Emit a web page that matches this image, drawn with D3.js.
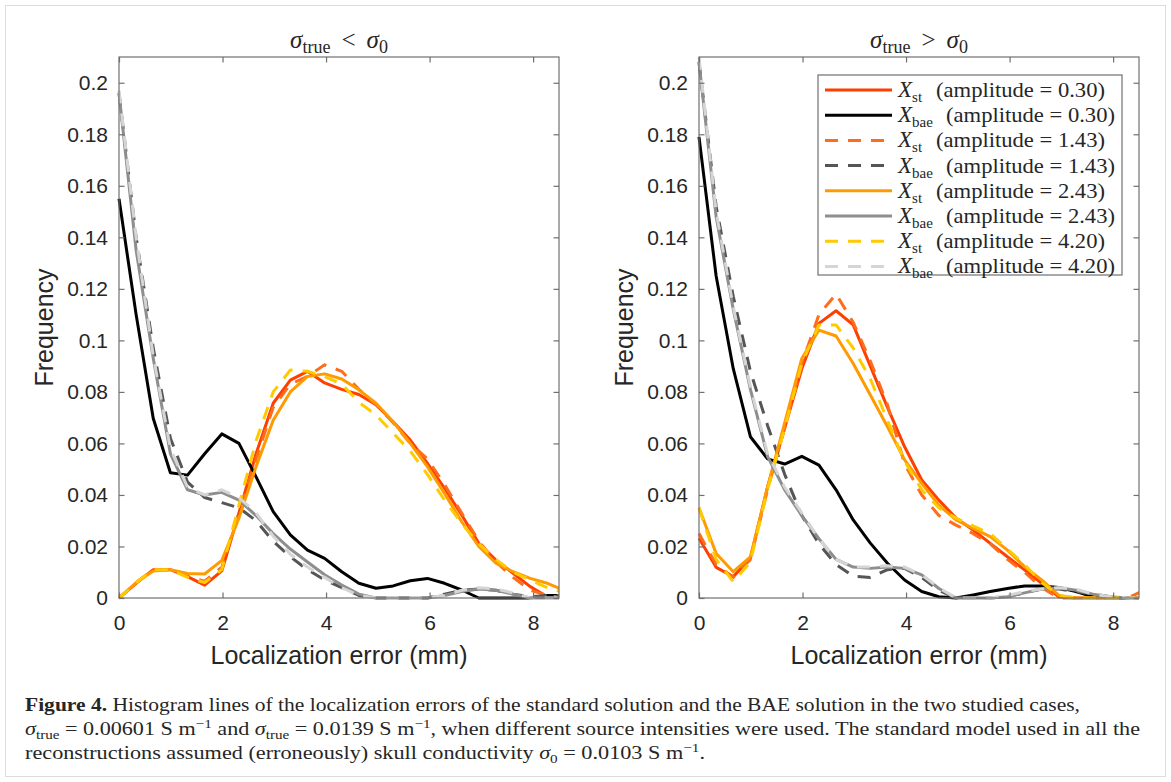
<!DOCTYPE html>
<html><head><meta charset="utf-8">
<script src="https://cdn.jsdelivr.net/npm/d3@7/dist/d3.min.js"></script>
<style>body{margin:0;background:#fff;} svg{display:block;}</style>
</head><body>
<svg id="chart" width="1171" height="782"></svg>
<script>
// ---------- data ----------
const xBins = [0, 0.331, 0.662, 0.993, 1.324, 1.655, 1.986, 2.317, 2.648, 2.979, 3.31, 3.641, 3.972, 4.303, 4.634, 4.965, 5.296, 5.627, 5.958, 6.289, 6.62, 6.951, 7.282, 7.613, 7.944, 8.275, 8.606];
const xTicks = [0, 2, 4, 6, 8];
const yTicks = [0, 0.02, 0.04, 0.06, 0.08, 0.1, 0.12, 0.14, 0.16, 0.18, 0.2];
const yTickLabels = ["0", "0.02", "0.04", "0.06", "0.08", "0.1", "0.12", "0.14", "0.16", "0.18", "0.2"];
const amplitudes = ["0.30", "0.30", "1.43", "1.43", "2.43", "2.43", "4.20", "4.20"];
const methods = ["st", "bae", "st", "bae", "st", "bae", "st", "bae"];

// sigma_true < sigma_0
const lowSt030  = [0, 0.0057, 0.011, 0.011, 0.0083, 0.005, 0.0105, 0.033, 0.056, 0.0756, 0.0846, 0.088, 0.0835, 0.081, 0.079, 0.075, 0.0684, 0.0613, 0.0523, 0.0426, 0.0322, 0.0212, 0.0147, 0.0096, 0.0044, 0.0005, 0];
const lowBae030 = [0.155, 0.11, 0.0697, 0.0486, 0.0477, 0.056, 0.0637, 0.060, 0.047, 0.0335, 0.0245, 0.0186, 0.0154, 0.0102, 0.0057, 0.0038, 0.0047, 0.0067, 0.0076, 0.0057, 0.0031, 0, 0, 0, 0, 0.001, 0.001];
const lowSt143  = [0, 0.006, 0.011, 0.011, 0.0085, 0.0065, 0.012, 0.033, 0.054, 0.074, 0.083, 0.086, 0.0905, 0.088, 0.081, 0.075, 0.068, 0.060, 0.054, 0.044, 0.033, 0.022, 0.014, 0.008, 0.003, 0.001, 0];
const lowBae143 = [0.196, 0.14, 0.097, 0.062, 0.045, 0.039, 0.037, 0.035, 0.030, 0.022, 0.016, 0.011, 0.007, 0.004, 0.001, 0, 0, 0, 0, 0.0015, 0.003, 0.0035, 0.003, 0.0015, 0.0005, 0.001, 0.001];
const lowSt243  = [0, 0.006, 0.0105, 0.011, 0.0095, 0.0093, 0.0146, 0.031, 0.051, 0.069, 0.080, 0.086, 0.087, 0.085, 0.0808, 0.0756, 0.0684, 0.060, 0.051, 0.0406, 0.0296, 0.020, 0.0135, 0.0102, 0.0076, 0.0057, 0.003];
const lowBae243 = [0.196, 0.135, 0.093, 0.056, 0.042, 0.040, 0.041, 0.038, 0.032, 0.025, 0.019, 0.014, 0.009, 0.005, 0.0015, 0, 0, 0, 0, 0.001, 0.0025, 0.0035, 0.003, 0.0015, 0, 0, 0];
const lowSt420  = [0, 0.006, 0.011, 0.011, 0.008, 0.006, 0.011, 0.036, 0.061, 0.080, 0.0885, 0.088, 0.086, 0.083, 0.076, 0.071, 0.064, 0.057, 0.048, 0.038, 0.029, 0.021, 0.015, 0.010, 0.007, 0.004, 0.002];
const lowBae420 = [0.197, 0.14, 0.094, 0.058, 0.043, 0.040, 0.042, 0.039, 0.033, 0.024, 0.017, 0.012, 0.008, 0.004, 0.001, 0, 0, 0, 0, 0.001, 0.003, 0.004, 0.0035, 0.002, 0, 0, 0];

// sigma_true > sigma_0
const highSt030  = [0.0232, 0.0119, 0.0083, 0.0154, 0.043, 0.066, 0.089, 0.1066, 0.1115, 0.106, 0.090, 0.074, 0.0587, 0.0458, 0.038, 0.031, 0.0264, 0.0212, 0.016, 0.0109, 0.0057, 0.0005, 0, 0, 0, 0, 0];
const highBae030 = [0.179, 0.125, 0.089, 0.0626, 0.054, 0.052, 0.055, 0.0516, 0.042, 0.0303, 0.0213, 0.0135, 0.007, 0.0025, 0.0005, 0, 0.0012, 0.0025, 0.0037, 0.0047, 0.0047, 0.0041, 0.0025, 0.0005, 0, 0, 0];
const highSt143  = [0.025, 0.013, 0.008, 0.015, 0.042, 0.066, 0.091, 0.110, 0.118, 0.107, 0.092, 0.075, 0.052, 0.040, 0.032, 0.0283, 0.025, 0.021, 0.015, 0.010, 0.004, 0, 0, 0, 0, 0, 0.003];
const highBae143 = [0.208, 0.152, 0.117, 0.088, 0.067, 0.048, 0.032, 0.021, 0.013, 0.0085, 0.008, 0.011, 0.0115, 0.008, 0.003, 0, 0, 0, 0.0005, 0.002, 0.0035, 0.0035, 0.0025, 0.0015, 0.0005, 0, 0];
const highSt243  = [0.035, 0.0173, 0.0102, 0.016, 0.043, 0.068, 0.093, 0.104, 0.1017, 0.091, 0.0788, 0.0665, 0.0536, 0.0445, 0.036, 0.0303, 0.027, 0.0238, 0.0186, 0.0122, 0.007, 0.001, 0, 0, 0, 0, 0];
const highBae243 = [0.208, 0.148, 0.112, 0.081, 0.055, 0.042, 0.032, 0.023, 0.015, 0.012, 0.0115, 0.012, 0.0115, 0.009, 0.0037, 0, 0, 0, 0.0005, 0.002, 0.0035, 0.004, 0.003, 0.0015, 0.0005, 0, 0];
const highSt420  = [0.035, 0.015, 0.0063, 0.014, 0.042, 0.066, 0.091, 0.106, 0.106, 0.097, 0.085, 0.069, 0.053, 0.042, 0.035, 0.031, 0.028, 0.025, 0.019, 0.013, 0.006, 0.001, 0, 0, 0, 0, 0];
const highBae420 = [0.21, 0.15, 0.113, 0.082, 0.056, 0.043, 0.033, 0.023, 0.015, 0.012, 0.012, 0.0125, 0.012, 0.009, 0.004, 0, 0, 0, 0.001, 0.0025, 0.0035, 0.004, 0.0035, 0.0015, 0.0005, 0, 0];

const lowSeries  = [lowSt030, lowBae030, lowSt143, lowBae143, lowSt243, lowBae243, lowSt420, lowBae420];
const highSeries = [highSt030, highBae030, highSt143, highBae143, highSt243, highBae243, highSt420, highBae420];

// ---------- styles ----------
const colors = ["#ff3f00", "#000000", "#ff6c1c", "#555555", "#ff9a00", "#8e8e8e", "#ffcb00", "#d5d5d5"];
const dashed = [false, false, true, true, false, false, true, true];
const DASH = "13,10";
const axisColor = "#707070";
const textColor = "#262626";
const sans = "'Liberation Sans', Arial, Helvetica, sans-serif";
const serif = "'Liberation Serif', 'Times New Roman', serif";

const svg = d3.select("#chart");
svg.append("rect").attr("x", 5.5).attr("y", 5.5).attr("width", 1160).attr("height", 771)
  .attr("fill", "#fff").attr("stroke", "#dcdcdc");

function richText(sel, x, y, segs, o) {
  o = o || {};
  const size = o.size || 20, small = o.small || Math.round(size * 0.7);
  const subD = o.subD || Math.round(size * 0.28), supD = o.supD || Math.round(size * 0.38);
  const t = sel.append("text").attr("x", x).attr("y", y)
    .attr("font-family", o.family || serif).attr("font-size", size)
    .attr("fill", o.fill || textColor).attr("text-anchor", o.anchor || "start");
  let shift = 0;
  segs.forEach(s => {
    const ts = t.append("tspan").text(s.t);
    const target = s.sub ? subD : (s.sup ? -supD : 0);
    if (target !== shift) { ts.attr("dy", target - shift); shift = target; }
    if (s.dx) ts.attr("dx", s.dx);
    if (s.sub || s.sup) ts.attr("font-size", small);
    if (s.it) ts.attr("font-style", "italic");
    if (s.b) ts.attr("font-weight", "bold");
  });
  if (o.len) t.attr("textLength", o.len).attr("lengthAdjust", o.adjust || "spacingAndGlyphs");
  return t;
}

function drawPanel(left, seriesList, titleOp, id) {
  const x0 = left, x1 = left + 440, y0 = 57, y1 = 598;
  const x = d3.scaleLinear().domain([0, 8.5]).range([x0, x1]);
  const y = d3.scaleLinear().domain([0, 0.21]).range([y1, y0]);
  const g = svg.append("g");

  g.append("clipPath").attr("id", "clip" + id).append("rect")
    .attr("x", x0 - 3).attr("y", y0 - 3).attr("width", x1 - x0 + 3).attr("height", y1 - y0 + 5);

  // lines
  const line = d3.line().x((d, i) => x(xBins[i])).y(d => y(d));
  const lg = g.append("g").attr("clip-path", `url(#clip${id})`);
  seriesList.forEach((s, i) => {
    lg.append("path").datum(s).attr("d", line).attr("fill", "none")
      .attr("stroke", colors[i]).attr("stroke-width", 3)
      .attr("stroke-linejoin", "round")
      .attr("stroke-dasharray", dashed[i] ? DASH : null);
  });

  // frame
  g.append("rect").attr("x", x0).attr("y", y0).attr("width", x1 - x0).attr("height", y1 - y0)
    .attr("fill", "none").attr("stroke", axisColor).attr("stroke-width", 1.2);

  // axes (ticks inside, mirrored)
  const tl = 5.5;
  const axB = d3.axisBottom(x).tickValues(xTicks).tickSize(-tl).tickPadding(17).tickFormat(d3.format("d"));
  const axT = d3.axisTop(x).tickValues(xTicks).tickSize(-tl).tickFormat("");
  const axL = d3.axisLeft(y).tickValues(yTicks).tickSize(-tl).tickPadding(11).tickFormat((d, i) => yTickLabels[i]);
  const axR = d3.axisRight(y).tickValues(yTicks).tickSize(-tl).tickFormat("");
  const style = a => {
    a.select(".domain").remove();
    a.selectAll(".tick line").attr("stroke", axisColor).attr("stroke-width", 1.2);
    a.selectAll("text").attr("font-family", sans).attr("font-size", 21).attr("fill", textColor);
  };
  g.append("g").attr("transform", `translate(0,${y1})`).call(axB).call(style);
  g.append("g").attr("transform", `translate(0,${y0})`).call(axT).call(style);
  g.append("g").attr("transform", `translate(${x0},0)`).call(axL).call(style);
  g.append("g").attr("transform", `translate(${x1},0)`).call(axR).call(style);

  // labels
  g.append("text").attr("x", (x0 + x1) / 2).attr("y", 664).attr("text-anchor", "middle")
    .attr("font-family", sans).attr("font-size", 25).attr("fill", textColor).text("Localization error (mm)");
  g.append("text").attr("transform", `translate(${x0 - 66},${(y0 + y1) / 2}) rotate(-90)`)
    .attr("text-anchor", "middle").attr("font-family", sans).attr("font-size", 25)
    .attr("fill", textColor).text("Frequency");

  // title
  richText(g, (x0 + x1) / 2, 48, [
    { t: "σ", it: true }, { t: "true", sub: true }, { t: titleOp, dx: 11 }, { t: "σ", it: true, dx: 11 }, { t: "0", sub: true }
  ], { size: 25, small: 18, subD: 5, anchor: "middle" });
  return { x, y };
}

drawPanel(119, lowSeries, "<", "L");
drawPanel(699, highSeries, ">", "R");

// legend
const lgd = svg.append("g");
lgd.append("rect").attr("x", 818).attr("y", 75).attr("width", 304).attr("height", 200)
  .attr("fill", "#fff").attr("stroke", axisColor).attr("stroke-width", 1.2);
amplitudes.forEach((a, i) => {
  const ry = 90 + i * 25.2;
  lgd.append("line").attr("x1", 825).attr("x2", 892).attr("y1", ry).attr("y2", ry)
    .attr("stroke", colors[i]).attr("stroke-width", 3)
    .attr("stroke-dasharray", dashed[i] ? DASH : null);
  richText(lgd, 898, ry + 7, [{ t: "X", it: true }, { t: methods[i], sub: true }], { size: 23, small: 15, subD: 5 });
  richText(lgd, methods[i] === "st" ? 936 : 946, ry + 7, [{ t: "(amplitude = " + a + ")" }], { size: 22, len: 169 });
});

// caption
const cap = svg.append("g");
richText(cap, 25, 711, [
  { t: "Figure 4.", b: true },
  { t: " Histogram lines of the localization errors of the standard solution and the BAE solution in the two studied cases," }
], { size: 19, len: 1055 });
richText(cap, 25, 735, [
  { t: "σ", it: true }, { t: "true", sub: true }, { t: " = 0.00601 S m" }, { t: "−1", sup: true },
  { t: " and " }, { t: "σ", it: true }, { t: "true", sub: true }, { t: " = 0.0139 S m" }, { t: "−1", sup: true },
  { t: ", when different source intensities were used. The standard model used in all the" }
], { size: 19, small: 13, subD: 4, supD: 7, len: 1115 });
richText(cap, 25, 759, [
  { t: "reconstructions assumed (erroneously) skull conductivity " }, { t: "σ", it: true }, { t: "0", sub: true },
  { t: " = 0.0103 S m" }, { t: "−1", sup: true }, { t: "." }
], { size: 19, small: 13, subD: 4, supD: 7, len: 680 });
</script>
</body></html>
